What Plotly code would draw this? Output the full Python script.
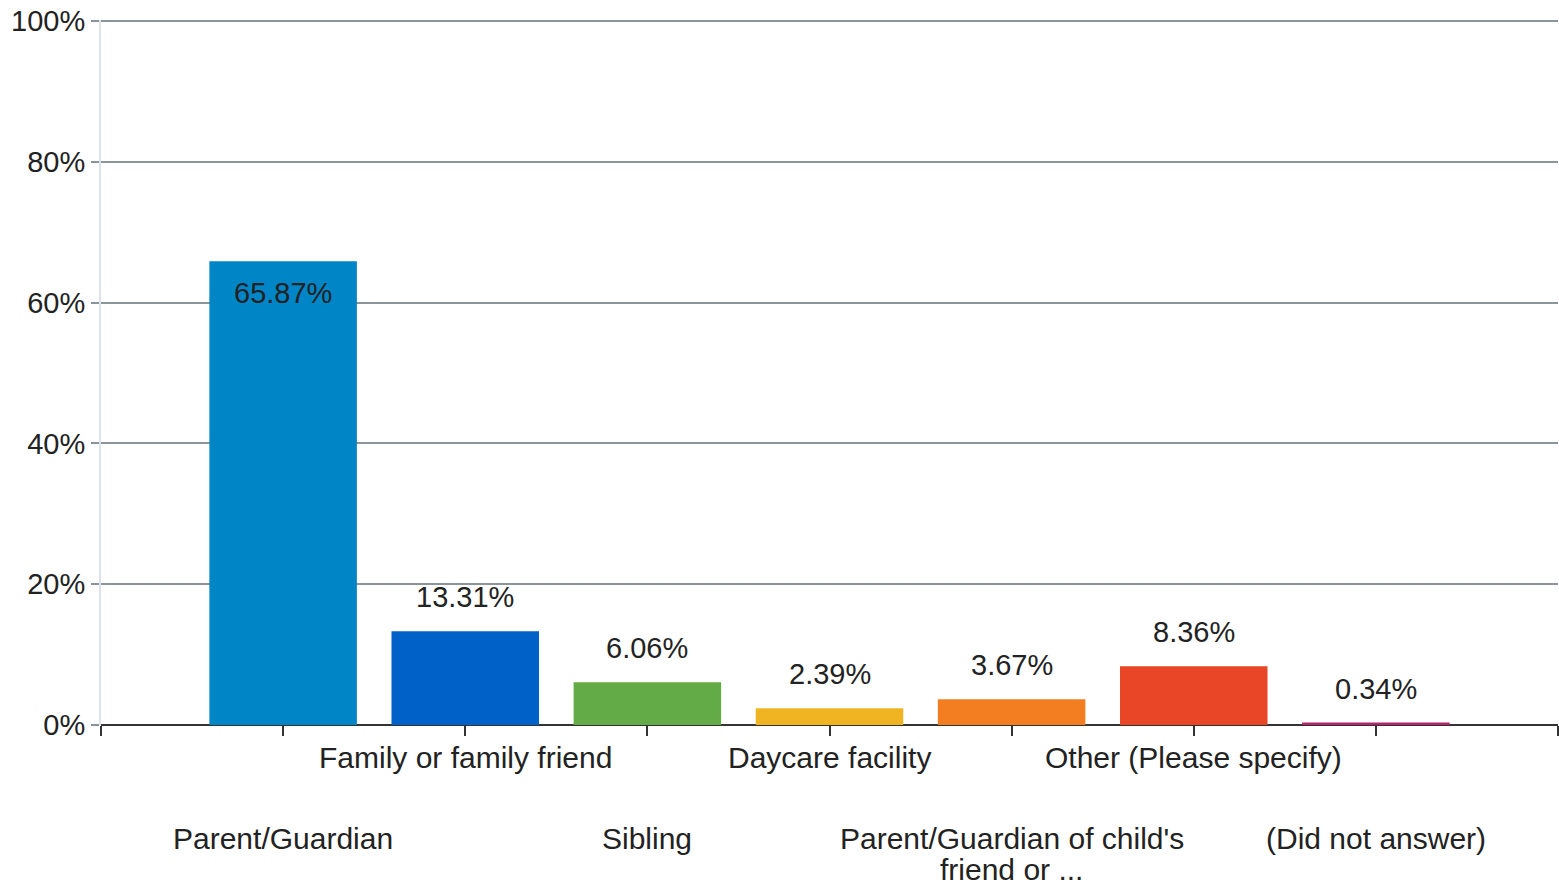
import plotly.graph_objects as go

categories = ["Parent/Guardian", "Family or family friend", "Sibling", "Daycare facility",
              "Parent/Guardian of child's<br>friend or ...", "Other (Please specify)", "(Did not answer)"]
values = [65.87, 13.31, 6.06, 2.39, 3.67, 8.36, 0.34]
value_labels = ["65.87%", "13.31%", "6.06%", "2.39%", "3.67%", "8.36%", "0.34%"]
colors = ["#0085c7", "#0062c8", "#62ab46", "#f0b422", "#f37e22", "#e94527", "#b5236b"]
y_ticks = [0, 20, 40, 60, 80, 100]
y_ticklabels = ["0%", "20%", "40%", "60%", "80%", "100%"]

FONT = "Liberation Sans"
TXT = "#222222"
FS = 29
FS_CAT = 30

xs = list(range(len(categories)))

fig = go.Figure()
fig.add_trace(go.Bar(
    x=xs, y=values, width=0.81,
    marker=dict(color=colors, line=dict(width=0)),
    hoverinfo="skip", showlegend=False,
))

annotations = []
for i, (v, lab) in enumerate(zip(values, value_labels)):
    inside = v > 50
    annotations.append(dict(
        x=i, y=v, xref="x", yref="y", text=lab, showarrow=False,
        yanchor="middle", xanchor="center",
        yshift=-32 if inside else 34,
        font=dict(family=FONT, size=FS, color=TXT),
    ))
for i, c in enumerate(categories):
    base = -32 if i % 2 == 1 else -113
    for j, line in enumerate(c.split("<br>")):
        annotations.append(dict(
            x=i, y=0, xref="x", yref="paper", text=line, showarrow=False,
            xanchor="center", yanchor="middle", yshift=base - 31 * j,
            font=dict(family=FONT, size=FS_CAT, color=TXT),
        ))

fig.update_layout(
    width=1559, height=886,
    margin=dict(l=101, r=1, t=20, b=161, autoexpand=False),
    paper_bgcolor="white", plot_bgcolor="white",
    annotations=annotations,
    xaxis=dict(
        range=[-1, len(categories)],
        tickmode="array",
        tickvals=list(range(-1, len(categories) + 1)),
        ticktext=[""] * (len(categories) + 2),
        ticks="outside", ticklen=10, tickwidth=2, tickcolor="#333333",
        showgrid=False, zeroline=False, showline=False,
        automargin=False,
    ),
    yaxis=dict(
        range=[0, 100.15],
        tickmode="array", tickvals=y_ticks, ticktext=y_ticklabels,
        ticks="outside", ticklen=8, tickwidth=2, tickcolor="#8a9499",
        tickfont=dict(family=FONT, size=FS, color=TXT),
        showgrid=True, gridcolor="#8a9499", gridwidth=2,
        zeroline=True, zerolinecolor="#333333", zerolinewidth=2,
        showline=True, linecolor="#dde3ee", linewidth=2,
        ticklabelstandoff=0,
        ticklabeloverflow="allow",
        automargin=False,
    ),
)

fig.write_html("out.html",
               config={"displayModeBar": False},
               post_script="document.body.style.margin='0';document.body.style.overflow='hidden';")
